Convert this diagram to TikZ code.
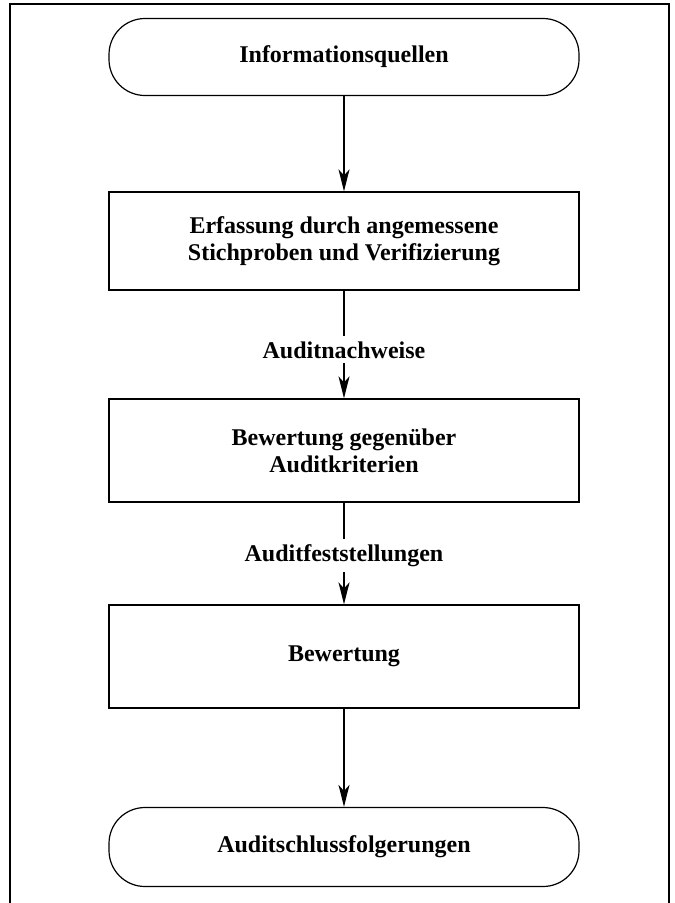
\documentclass[tikz,border=0pt]{standalone}
\usepackage{fontspec}
\setmainfont{Liberation Serif}
\usetikzlibrary{arrows.meta}

\tikzset{
  termbox/.style={draw, line width=1.2pt, rounded corners=36pt, minimum width=470pt, minimum height=77pt, align=center},
  stepbox/.style={draw, line width=1.2pt, minimum width=470pt, minimum height=103pt, align=center},
  flowlabel/.style={fill=white, inner sep=5pt},
  flowarrow/.style={line width=1.5pt, -{Stealth[length=22pt, width=11pt, inset=6pt]}}
}

\begin{document}
\begin{tikzpicture}[x=1pt, y=-1pt, font=\fontsize{24}{27}\selectfont\bfseries]
    \useasboundingbox (0,0) rectangle (675,903);
    \draw[line width=2pt] (9.5,915) -- (9.5,4) -- (669,4) -- (669,915);
    \node[termbox] (quellen) at (344,57) {Informationsquellen};
    \node[stepbox, minimum height=98pt] (erfassung) at (344,241) {Erfassung durch angemessene\\Stichproben und Verifizierung};
    \node[stepbox] (kriterien) at (344,450.5) {Bewertung gegenüber\\Auditkriterien};
    \node[stepbox] (bewertung) at (344,656.5) {Bewertung};
    \node[termbox, minimum height=79pt] (schluss) at (344,847) {Auditschlussfolgerungen};
    \draw[flowarrow] (quellen) -- (erfassung);
    \draw[flowarrow] (erfassung) -- node[flowlabel, pos=0.55] (nachweise) {Auditnachweise} (kriterien);
    \draw[flowarrow] (kriterien) -- node[flowlabel, pos=0.52] (feststellungen) {Auditfeststellungen} (bewertung);
    \draw[flowarrow] (bewertung) -- (schluss);
\end{tikzpicture}
\end{document}
